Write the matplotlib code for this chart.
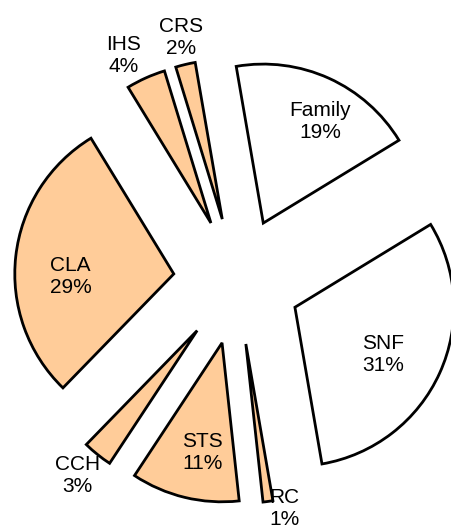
import matplotlib
matplotlib.use("Agg")
import matplotlib.pyplot as plt
import numpy as np

# Data (clockwise from the top)
categories = ["Family", "SNF", "RC", "STS", "CCH", "CLA", "IHS", "CRS"]
shares = [19, 31, 1, 11, 3, 29, 4, 2]
colors = ["#FFFFFF", "#FFFFFF", "#FFCC99", "#FFCC99", "#FFCC99", "#FFCC99", "#FFCC99", "#FFCC99"]
# label placement style: distance (fraction of radius) from the wedge tip, and
# clockwise angular shift (degrees) from the wedge bisector
label_dist = [0.73, 0.63, 1.06, 0.70, 1.18, 0.65, 1.19, 1.17]
label_shift = [5.0, 3.7, -5.2, -3.4, 0.8, -8.0, -3.2, 0.6]

W, H = 451, 531
fig = plt.figure(figsize=(W / 100, H / 100), dpi=100)
ax = fig.add_axes([0, 0, 1, 1])

cx, cy, r = 237, H - 281, 159
explode_frac = 0.4
wedges, _ = ax.pie(shares, colors=colors, startangle=99.8, counterclock=False,
                   explode=[explode_frac * r] * len(shares), center=(cx, cy), radius=r,
                   wedgeprops=dict(edgecolor="black", linewidth=2, joinstyle="miter"),
                   frame=True)

for w, name, s, ld, sh in zip(wedges, categories, shares, label_dist, label_shift):
    ang = np.deg2rad((w.theta1 + w.theta2) / 2 - sh)
    wx, wy = w.center
    x = wx + ld * r * np.cos(ang)
    y = wy + ld * r * np.sin(ang)
    ax.text(x, y, f"{name}\n{s}%", ha="center", va="center", fontsize=15,
            family="Liberation Sans", linespacing=1.2)

ax.set_xlim(0, W)
ax.set_ylim(0, H)
ax.set_aspect("equal")
ax.axis("off")
fig.savefig("out.png", dpi=100)
